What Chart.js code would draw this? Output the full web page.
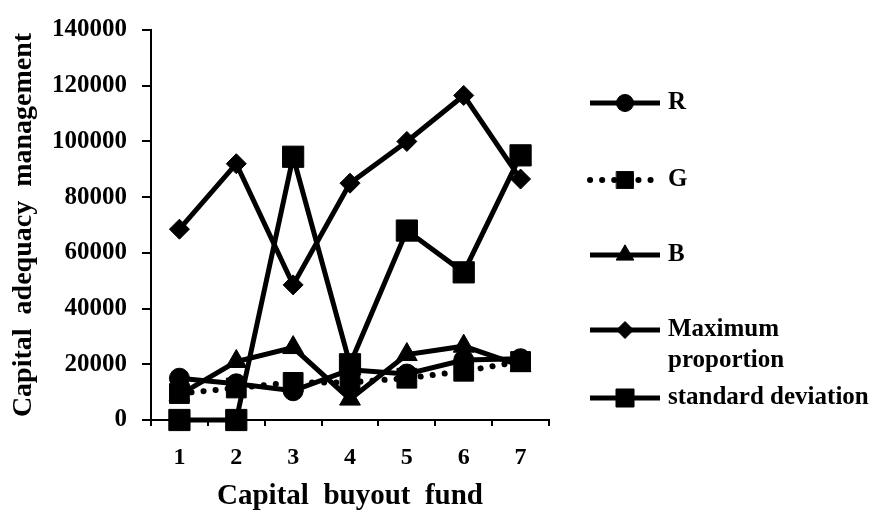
<!DOCTYPE html>
<html>
<head>
<meta charset="utf-8">
<script src="https://cdn.jsdelivr.net/npm/chart.js@4.4.0/dist/chart.umd.min.js"></script>
<style>
  body { margin: 0; background: #fff; }
  #wrap { width: 885px; height: 515px; }
</style>
</head>
<body>
<div id="wrap"><canvas id="myChart" width="885" height="515"></canvas></div>
<script>
const funds = ['1', '2', '3', '4', '5', '6', '7'];
const rValues = [15000, 13000, 10500, 18000, 16500, 21500, 22000];
const gValues = [9500, 11500, 13500, 13500, 15000, 17500, 21000];
const bValues = [9000, 21000, 26000, 7500, 23500, 26500, 19500];
const maxProportion = [68500, 92000, 48500, 85000, 100000, 116500, 86500];
const stdDeviation = [0, 0, 94500, 20000, 68000, 53000, 95000];
const legendLabels = ['R', 'G', 'B', ['Maximum', 'proportion'], 'standard deviation'];

const serif = "'Liberation Serif', 'Times New Roman', serif";

function series(label, data, style, radius, dash) {
    return {
        label: label,
        data: data,
        borderColor: '#000',
        backgroundColor: '#000',
        borderWidth: dash ? 6 : 5,
        borderDash: dash || [],
        borderCapStyle: dash ? 'round' : 'butt',
        pointStyle: style,
        pointRadius: radius,
        pointBorderWidth: 1,
        pointBackgroundColor: '#000',
        pointBorderColor: '#000',
        tension: 0,
        clip: false
    };
}

// legend drawn at the right, line + marker like the original
const sideLegend = {
    id: 'sideLegend',
    afterDraw(chart) {
        const ctx = chart.ctx;
        const area = chart.chartArea;
        const x0 = area.right + 41, x1 = area.right + 111, tx = area.right + 119;
        const rows = [103, 180, 255, 330, 398];
        chart.data.datasets.forEach((ds, i) => {
            const y = rows[i];
            ctx.save();
            ctx.strokeStyle = '#000';
            ctx.lineWidth = ds.borderWidth;
            ctx.lineCap = ds.borderDash.length ? 'round' : 'butt';
            ctx.setLineDash(ds.borderDash);
            ctx.beginPath();
            ctx.moveTo(x0, y);
            ctx.lineTo(x1, y);
            ctx.stroke();
            ctx.setLineDash([]);
            ctx.fillStyle = '#000';
            ctx.lineWidth = 1;
            Chart.helpers.drawPoint(ctx, {
                pointStyle: ds.pointStyle,
                radius: ds.pointRadius * 0.85,
                rotation: 0,
                borderWidth: 1
            }, (x0 + x1) / 2, y);
            ctx.font = 'bold 25px ' + serif;
            ctx.textBaseline = 'middle';
            ctx.textAlign = 'left';
            const lines = [].concat(legendLabels[i]);
            lines.forEach((t, k) => ctx.fillText(t, tx, y + k * 31));
            ctx.restore();
        });
    }
};

const ctx = document.getElementById('myChart').getContext('2d');
const myChart = new Chart(ctx, {
    type: 'line',
    data: {
        labels: funds,
        datasets: [
            series('R', rValues, 'circle', 10),
            series('G', gValues, 'rect', 14, [0.1, 12]),
            series('B', bValues, 'triangle', 12),
            series('Maximum proportion', maxProportion, 'rectRot', 10),
            series('standard deviation', stdDeviation, 'rect', 15)
        ]
    },
    options: {
        responsive: false,
        animation: false,
        layout: { padding: { top: 19, right: 336, left: 0, bottom: 0 } },
        plugins: {
            legend: { display: false },
            tooltip: { enabled: false }
        },
        scales: {
            x: {
                offset: true,
                grid: { offset: true, drawOnChartArea: false, color: '#000', lineWidth: 2, tickLength: 6 },
                border: { color: '#000', width: 2 },
                ticks: { color: '#000', padding: 17, font: { family: serif, size: 24, weight: 'bold' } },
                title: {
                    display: true,
                    text: 'Capital  buyout  fund',
                    color: '#000',
                    font: { family: serif, size: 29, weight: 'bold' },
                    padding: { top: 0, bottom: 1 }
                },
                afterFit(scale) { scale.height = 95; }
            },
            y: {
                min: 0,
                max: 140000,
                grid: { drawOnChartArea: false, color: '#000', lineWidth: 2, tickLength: 9 },
                border: { color: '#000', width: 2 },
                ticks: {
                    stepSize: 20000,
                    color: '#000',
                    padding: 15,
                    font: { family: serif, size: 25, weight: 'bold' },
                    callback: (v) => String(v)
                },
                title: {
                    display: true,
                    text: 'Capital  adequacy  management',
                    color: '#000',
                    font: { family: serif, size: 28, weight: 'bold' },
                    padding: { top: 7, bottom: 0 }
                },
                afterFit(scale) { scale.width = 151; }
            }
        }
    },
    plugins: [sideLegend]
});
</script>
</body>
</html>
